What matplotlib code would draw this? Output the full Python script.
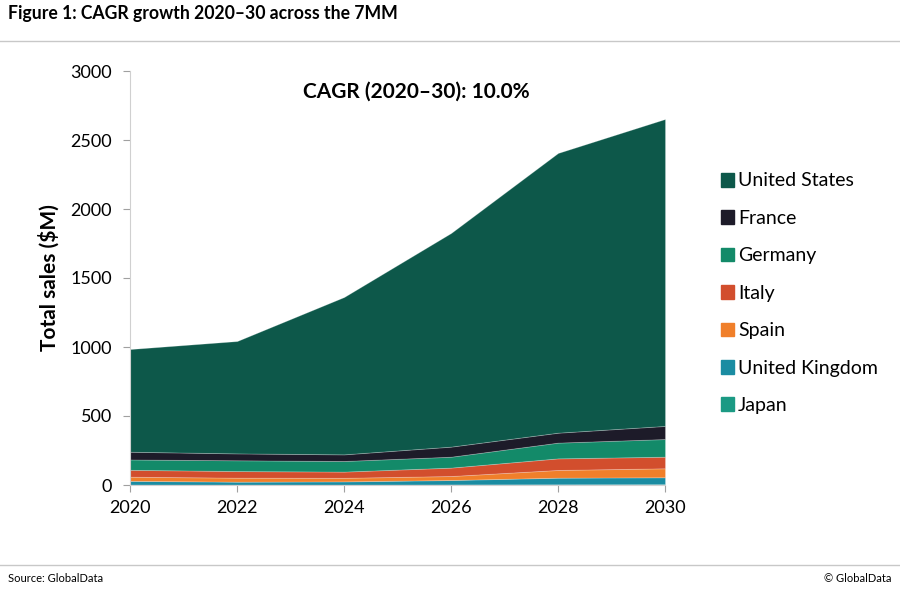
import matplotlib
matplotlib.use("Agg")
import matplotlib.pyplot as plt
from matplotlib.patches import Rectangle
from matplotlib.lines import Line2D

years = [2020, 2022, 2024, 2026, 2028, 2030]
japan = [3, 3, 3, 4, 5, 6]
uk = [27, 21, 23, 32, 48, 50]
spain = [30, 29, 26, 29, 56, 65]
italy = [50, 48, 45, 61, 84, 84]
germany = [75, 78, 77, 79, 114, 128]
france = [56, 50, 48, 73, 72, 95]
us = [744, 814, 1140, 1548, 2027, 2224]

series_names = ["Japan", "United Kingdom", "Spain", "Italy", "Germany", "France", "United States"]
series_vals = [japan, uk, spain, italy, germany, france, us]
colors = ["#1b9a84", "#1a8ca2", "#f07f2a", "#d24e2d", "#138a69", "#1d1b29", "#0d584a"]

yticks = [0, 500, 1000, 1500, 2000, 2500, 3000]
xticks = [2020, 2022, 2024, 2026, 2028, 2030]

plt.rcParams['font.family'] = ['Lato', 'DejaVu Sans']

fig = plt.figure(figsize=(9, 5.89), dpi=100)
ax = fig.add_axes([130/900, 1-485/589, (665-130)/900, (485-71)/589])

polys = ax.stackplot(years, *series_vals, colors=colors, labels=series_names,
                     edgecolor=(1, 1, 1, 0.25), linewidth=0.6)

ax.set_xlim(2020, 2030)
ax.set_ylim(0, 3000)
ax.set_xticks(xticks)
ax.set_yticks(yticks)
ax.tick_params(axis='both', labelsize=13, color='#a0a0a0', length=5, width=0.8, direction='out')
ax.tick_params(axis='y', pad=8)
ax.tick_params(axis='x', pad=6)
for s in ['top', 'right']:
    ax.spines[s].set_visible(False)
for s in ['left', 'bottom']:
    ax.spines[s].set_color('#d0d0d0')
    ax.spines[s].set_linewidth(0.8)

ax.set_ylabel("Total sales ($M)", fontsize=15, fontweight='bold', labelpad=8)
ax.text(0.535, 0.95, "CAGR (2020–30): 10.0%", transform=ax.transAxes,
        ha='center', va='center', fontsize=15, fontweight='bold')

# legend (reversed order: US on top)
handles = [Rectangle((0, 0), 1, 1, color=c) for c in colors[::-1]]
fig.legend(handles, series_names[::-1], loc='upper left',
           bbox_to_anchor=(703/900, 1-155/589), frameon=False, fontsize=14,
           handlelength=0.7, handleheight=0.7, handletextpad=0.2, labelspacing=1.05)

# header/footer
fig.text(8/900, 1-14/589, "Figure 1: CAGR growth 2020–30 across the 7MM", fontsize=12.7,
         fontweight='bold', va='center', ha='left')
fig.add_artist(Line2D([0, 1], [1-41/589, 1-41/589], color='#c8c8c8', lw=1, transform=fig.transFigure))
fig.add_artist(Line2D([0, 1], [1-565/589, 1-565/589], color='#c8c8c8', lw=1, transform=fig.transFigure))
fig.text(8/900, 1-578/589, "Source: GlobalData", fontsize=8, va='center', ha='left')
fig.text(892/900, 1-578/589, "© GlobalData", fontsize=8, va='center', ha='right')

fig.savefig("out.png", dpi=100)
